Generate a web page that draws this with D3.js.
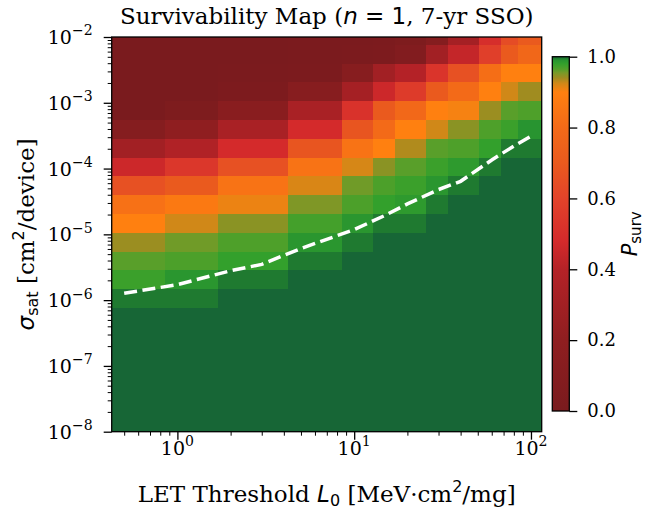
<!DOCTYPE html>
<html>
<head>
<meta charset="utf-8">
<script src="https://cdn.jsdelivr.net/npm/d3@7"></script>
<style>
  body { margin: 0; background: #fff; }
  text { font-family: "DejaVu Serif", serif; fill: #000; }
  .mi { font-family: "DejaVu Sans", sans-serif; font-style: italic; }
  .mr { font-family: "DejaVu Sans", sans-serif; font-style: normal; }
  .tick line { stroke: #000; }
</style>
</head>
<body>
<svg id="chart" width="667" height="513"></svg>
<script>
// Survivability map: P_surv over LET threshold (x) and saturated cross-section (y).

// LET threshold grid (MeV·cm²/mg), one column each
var LET = [0.5, 1, 2, 5, 10, 15, 20, 30, 40, 60, 80, 100];
// sigma_sat grid: 22 log-spaced rows 1e-8 .. 1e-2 cm²/device
var SIGMA = d3.range(22).map(function (i) { return Math.pow(10, -8 + i * 6 / 21); });

// P_surv, rows listed from the top (sigma = 1e-2) down to 1e-8, columns follow LET
var P_SURV = [
  [0.00, 0.00, 0.00, 0.01, 0.01, 0.02, 0.04, 0.10, 0.32, 0.50, 0.64, 0.70],
  [0.00, 0.00, 0.00, 0.01, 0.02, 0.03, 0.08, 0.30, 0.44, 0.58, 0.70, 0.78],
  [0.00, 0.00, 0.01, 0.02, 0.12, 0.30, 0.40, 0.53, 0.66, 0.82, 0.90, 0.90],
  [0.00, 0.00, 0.03, 0.12, 0.32, 0.46, 0.56, 0.70, 0.80, 0.90, 0.925, 0.94],
  [0.00, 0.04, 0.14, 0.34, 0.52, 0.70, 0.79, 0.90, 0.905, 0.942, 0.963, 0.967],
  [0.10, 0.20, 0.34, 0.48, 0.68, 0.80, 0.90, 0.925, 0.948, 0.967, 0.976, 0.99],
  [0.30, 0.38, 0.48, 0.68, 0.84, 0.90, 0.935, 0.963, 0.967, 0.98, 0.996, 0.996],
  [0.46, 0.54, 0.66, 0.84, 0.922, 0.948, 0.963, 0.976, 0.985, 0.996, 1, 1],
  [0.66, 0.70, 0.84, 0.92, 0.957, 0.968, 0.976, 0.988, 0.996, 1, 1, 1],
  [0.83, 0.87, 0.91, 0.952, 0.968, 0.98, 0.985, 0.996, 1, 1, 1, 1],
  [0.90, 0.925, 0.948, 0.972, 0.988, 0.996, 0.996, 1, 1, 1, 1, 1],
  [0.942, 0.957, 0.967, 0.988, 0.996, 1, 1, 1, 1, 1, 1, 1],
  [0.963, 0.968, 0.98, 0.996, 1, 1, 1, 1, 1, 1, 1, 1],
  [0.976, 0.988, 0.996, 1, 1, 1, 1, 1, 1, 1, 1, 1],
  [0.996, 0.996, 1, 1, 1, 1, 1, 1, 1, 1, 1, 1],
  [1, 1, 1, 1, 1, 1, 1, 1, 1, 1, 1, 1],
  [1, 1, 1, 1, 1, 1, 1, 1, 1, 1, 1, 1],
  [1, 1, 1, 1, 1, 1, 1, 1, 1, 1, 1, 1],
  [1, 1, 1, 1, 1, 1, 1, 1, 1, 1, 1, 1],
  [1, 1, 1, 1, 1, 1, 1, 1, 1, 1, 1, 1],
  [1, 1, 1, 1, 1, 1, 1, 1, 1, 1, 1, 1],
  [1, 1, 1, 1, 1, 1, 1, 1, 1, 1, 1, 1]
];

// white dashed boundary curve
var CURVE_LET   = [0.5, 1, 2, 3, 5, 10, 15, 20, 30, 40, 60, 80, 100];
var CURVE_SIGMA = [1.27e-6, 1.72e-6, 2.8e-6, 3.5e-6, 6.1e-6, 1.18e-5, 1.95e-5, 2.9e-5, 4.8e-5, 6.4e-5, 1.35e-4, 2.2e-4, 3.1e-4];

var X_MAJOR = [1, 10, 100];
var X_MAJOR_EXP = ['0', '1', '2'];
var Y_MAJOR = [1e-8, 1e-7, 1e-6, 1e-5, 1e-4, 1e-3, 1e-2];
var Y_MAJOR_EXP = ['\u22128', '\u22127', '\u22126', '\u22125', '\u22124', '\u22123', '\u22122'];
var CBAR_TICKS = [0, 0.2, 0.4, 0.6, 0.8, 1.0];

// colormap stops (value -> colour)
var CMAP_STOPS  = [0, 0.2, 0.4, 0.48, 0.6, 0.7, 0.8, 0.9, 0.925, 0.94, 0.955, 0.965, 0.98, 0.99, 0.996, 1];
var CMAP_COLORS = ['#7a1b1e', '#8f1e20', '#b42227', '#d42a2b', '#e2432a', '#ea5a1e', '#f36a18', '#ff8010',
                   '#d08818', '#a08c20', '#779a28', '#52a02a', '#33a02c', '#289430', '#1f7a30', '#176636'];

var PLOT = { left: 111.7, right: 541.7, top: 37, bottom: 431.7 };
var CBAR = { left: 552.3, right: 569.3, top: 56.7, bottom: 411 };
var FS_TICK = 19, FS_LABEL = 23, FS_SUB = 16;

var svg = d3.select('#chart');

var x = d3.scaleLog().domain([0.425, 115]).range([PLOT.left, PLOT.right]);
var y = d3.scaleLog().domain([1e-8, 1e-2]).range([PLOT.bottom, PLOT.top]);
var color = d3.scaleLinear().domain(CMAP_STOPS).range(CMAP_COLORS)
  .interpolate(d3.interpolateRgb).clamp(true);

// cell edges: columns run from 0.85*L_i to 0.85*L_{i+1}; rows use linear midpoints
var xEdges = LET.map(function (v) { return v * 0.85; }).concat([LET[LET.length - 1] * 1.15]);
var yEdges = [SIGMA[0] - (SIGMA[1] - SIGMA[0]) / 2];
for (var i = 1; i < SIGMA.length; i++) yEdges.push((SIGMA[i - 1] + SIGMA[i]) / 2);
yEdges.push(SIGMA[SIGMA.length - 1] + (SIGMA[SIGMA.length - 1] - SIGMA[SIGMA.length - 2]) / 2);

svg.append('clipPath').attr('id', 'plotclip').append('rect')
  .attr('x', PLOT.left).attr('y', PLOT.top)
  .attr('width', PLOT.right - PLOT.left).attr('height', PLOT.bottom - PLOT.top);

var cells = [];
P_SURV.forEach(function (row, r) {
  var si = SIGMA.length - 1 - r;
  row.forEach(function (v, c) { cells.push({ si: si, c: c, v: v }); });
});

svg.append('g').attr('clip-path', 'url(#plotclip)')
  .selectAll('rect').data(cells).enter().append('rect')
  .attr('x', function (d) { return x(xEdges[d.c]); })
  .attr('width', function (d) { return x(xEdges[d.c + 1]) - x(xEdges[d.c]); })
  .attr('y', function (d) { return y(yEdges[d.si + 1]); })
  .attr('height', function (d) { return y(yEdges[d.si]) - y(yEdges[d.si + 1]); })
  .attr('fill', function (d) { return color(d.v); })
  .attr('shape-rendering', 'crispEdges');

var line = d3.line()
  .x(function (d) { return x(d[0]); })
  .y(function (d) { return y(d[1]); });
svg.append('path')
  .datum(CURVE_LET.map(function (v, i) { return [v, CURVE_SIGMA[i]]; }))
  .attr('clip-path', 'url(#plotclip)')
  .attr('d', line)
  .attr('fill', 'none').attr('stroke', '#fff')
  .attr('stroke-width', 3.5).attr('stroke-dasharray', '13,5.5');

svg.append('rect')
  .attr('x', PLOT.left).attr('y', PLOT.top)
  .attr('width', PLOT.right - PLOT.left).attr('height', PLOT.bottom - PLOT.top)
  .attr('fill', 'none').attr('stroke', '#000').attr('stroke-width', 1.3);

// minor tick positions: 2..9 times each decade within the domain
function minors(dom) {
  var out = [];
  for (var e = Math.floor(Math.log10(dom[0])); e <= Math.ceil(Math.log10(dom[1])); e++) {
    for (var m = 2; m <= 9; m++) {
      var v = m * Math.pow(10, e);
      if (v >= dom[0] && v <= dom[1]) out.push(v);
    }
  }
  return out;
}

function axisGroup(axis, tx, ty, width) {
  var g = svg.append('g').attr('transform', 'translate(' + tx + ',' + ty + ')').call(axis);
  g.select('.domain').remove();
  g.selectAll('.tick line').attr('stroke-width', width);
  g.selectAll('.tick text').remove();
  return g;
}

axisGroup(d3.axisBottom(x).tickValues(minors(x.domain())).tickSize(4), 0, PLOT.bottom, 1);
axisGroup(d3.axisBottom(x).tickValues(X_MAJOR).tickSize(8), 0, PLOT.bottom, 1.3);
axisGroup(d3.axisLeft(y).tickValues(minors(y.domain())).tickSize(4), PLOT.left, 0, 1);
axisGroup(d3.axisLeft(y).tickValues(Y_MAJOR).tickSize(8), PLOT.left, 0, 1.3);

function pow10(t, exp, fs) {
  t.append('tspan').text('10');
  t.append('tspan').attr('dy', -0.45 * fs).attr('font-size', 0.74 * fs).text(exp);
}

X_MAJOR.forEach(function (v, i) {
  var t = svg.append('text').attr('x', x(v)).attr('y', PLOT.bottom + 23)
    .attr('text-anchor', 'middle').attr('font-size', FS_TICK);
  pow10(t, X_MAJOR_EXP[i], FS_TICK);
});
Y_MAJOR.forEach(function (v, i) {
  var t = svg.append('text').attr('x', PLOT.left - 19).attr('y', y(v) + 7)
    .attr('text-anchor', 'end').attr('font-size', FS_TICK);
  pow10(t, Y_MAJOR_EXP[i], FS_TICK);
});

// title
var title = svg.append('text').attr('x', (PLOT.left + PLOT.right) / 2).attr('y', 24)
  .attr('text-anchor', 'middle').attr('font-size', FS_LABEL);
title.append('tspan').text('Survivability Map (');
title.append('tspan').attr('class', 'mi').text('n');
title.append('tspan').attr('class', 'mr').text(' = 1');
title.append('tspan').text(', 7-yr SSO)');

// x label
var xl = svg.append('text').attr('x', (PLOT.left + PLOT.right) / 2).attr('y', 502)
  .attr('text-anchor', 'middle').attr('font-size', FS_LABEL);
xl.append('tspan').text('LET Threshold ');
xl.append('tspan').attr('class', 'mi').text('L');
xl.append('tspan').attr('class', 'mr').attr('font-size', FS_SUB).attr('dy', 4).text('0');
xl.append('tspan').attr('dy', -4).text(' [MeV\u00b7cm');
xl.append('tspan').attr('class', 'mr').attr('font-size', FS_SUB).attr('dy', -10).text('2');
xl.append('tspan').attr('dy', 10).text('/mg]');

// y label
var yl = svg.append('text')
  .attr('transform', 'translate(34,' + (PLOT.top + PLOT.bottom) / 2 + ') rotate(-90)')
  .attr('text-anchor', 'middle').attr('font-size', FS_LABEL);
yl.append('tspan').attr('class', 'mi').text('\u03c3');
yl.append('tspan').attr('class', 'mr').attr('font-size', FS_SUB).attr('dy', 4).text('sat');
yl.append('tspan').attr('dy', -4).text(' [cm');
yl.append('tspan').attr('class', 'mr').attr('font-size', FS_SUB).attr('dy', -10).text('2');
yl.append('tspan').attr('dy', 10).text('/device]');

// colorbar
var cb = d3.scaleLinear().domain([0, 1]).range([CBAR.bottom, CBAR.top]);
var grad = svg.append('defs').append('linearGradient').attr('id', 'cbgrad')
  .attr('x1', 0).attr('y1', 1).attr('x2', 0).attr('y2', 0);
CMAP_STOPS.forEach(function (s, i) {
  grad.append('stop').attr('offset', s).attr('stop-color', CMAP_COLORS[i]);
});
svg.append('rect')
  .attr('x', CBAR.left).attr('y', CBAR.top)
  .attr('width', CBAR.right - CBAR.left).attr('height', CBAR.bottom - CBAR.top)
  .attr('fill', 'url(#cbgrad)').attr('stroke', '#000').attr('stroke-width', 1.3);

var cbAxis = svg.append('g').attr('transform', 'translate(' + CBAR.right + ',0)')
  .call(d3.axisRight(cb).tickValues(CBAR_TICKS).tickSize(8).tickPadding(10).tickFormat(d3.format('.1f')));
cbAxis.select('.domain').remove();
cbAxis.selectAll('.tick line').attr('stroke-width', 1.3);
cbAxis.selectAll('.tick text').attr('font-family', 'DejaVu Serif').attr('font-size', 18).attr('fill', '#000');

var cl = svg.append('text')
  .attr('transform', 'translate(637,' + (CBAR.top + CBAR.bottom) / 2 + ') rotate(-90)')
  .attr('text-anchor', 'middle').attr('font-size', 21);
cl.append('tspan').attr('class', 'mi').text('P');
cl.append('tspan').attr('class', 'mr').attr('font-size', 15).attr('dy', 4).text('surv');
</script>
</body>
</html>
